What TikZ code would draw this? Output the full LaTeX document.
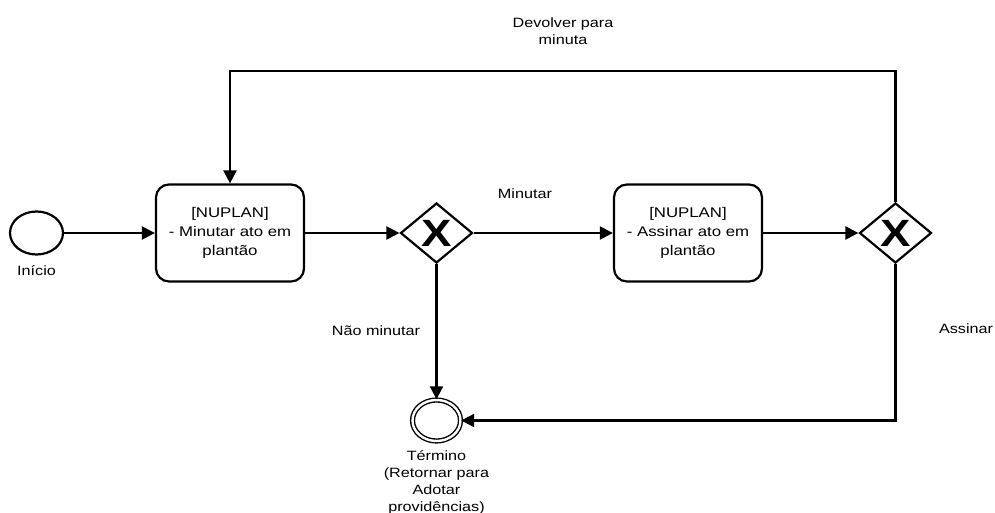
\documentclass[tikz,border=0pt]{standalone}
\usepackage{fontspec}
\setmainfont{Liberation Sans}[FakeStretch=1.2]
\usetikzlibrary{shapes.geometric,arrows.meta,positioning}

\begin{document}
\begin{tikzpicture}[x=1pt,y=-1pt,
    event/.style={ellipse,draw,line width=2.2pt,minimum width=53pt,minimum height=43pt,inner sep=0pt},
    endevent/.style={ellipse,draw,line width=1.4pt,double,double distance=2.4pt,minimum width=48pt,minimum height=41pt,inner sep=0pt},
    task/.style={rectangle,draw,line width=2.2pt,rounded corners=13pt,minimum width=148pt,minimum height=97pt,align=center,font=\fontsize{14}{19}\selectfont},
    gateway/.style={diamond,draw,line width=2.2pt,minimum width=72pt,minimum height=60pt,inner sep=0pt,font=\bfseries\fontsize{38}{38}\selectfont},
    flow/.style={line width=2.2pt,-{Triangle[length=13pt,width=13pt]}},
    lbl/.style={align=center,font=\fontsize{13.5}{17}\selectfont}]
    \useasboundingbox (0,0) rectangle (995,513);
    % Events, tasks and gateways
    \node[event] (inicio) at (36.5,233) {};
    \node[task] (minutar) at (230,233) {[NUPLAN]\\- Minutar ato em\\plantão};
    \node[gateway] (gw1) at (436.5,233) {X};
    \node[task] (assinar) at (688,233) {[NUPLAN]\\- Assinar ato em\\plantão};
    \node[gateway] (gw2) at (895.5,233) {X};
    \node[endevent] (termino) at (436.5,420.5) {};
    % Event labels
    \node[lbl] (inicioTxt) at (36.5,271) {Início};
    \node[lbl] (terminoTxt) at (436.5,482) {Término\\(Retornar para\\Adotar\\providências)};
    % Sequence flows
    \draw[flow] (inicio) -- (minutar);
    \draw[flow] (minutar) -- (gw1);
    \draw[flow] (gw1) -- (assinar);
    \draw[flow] (assinar) -- (gw2);
    \coordinate (topo) at (563,71);
    \draw[flow] (gw2.north) |- (topo) -| (minutar.north);
    \draw[flow] (gw1.south) -- (termino.north);
    \draw[flow] (gw2.south) |- (termino.east);
    % Flow labels
    \node[lbl] (lblMinutar) at (525,194) {Minutar};
    \node[lbl] (lblNao) at (376,331) {Não minutar};
    \node[lbl] (lblAssinar) at (966,329) {Assinar};
    \node[lbl] (lblDevolver) at (563,31) {Devolver para\\minuta};
\end{tikzpicture}
\end{document}
